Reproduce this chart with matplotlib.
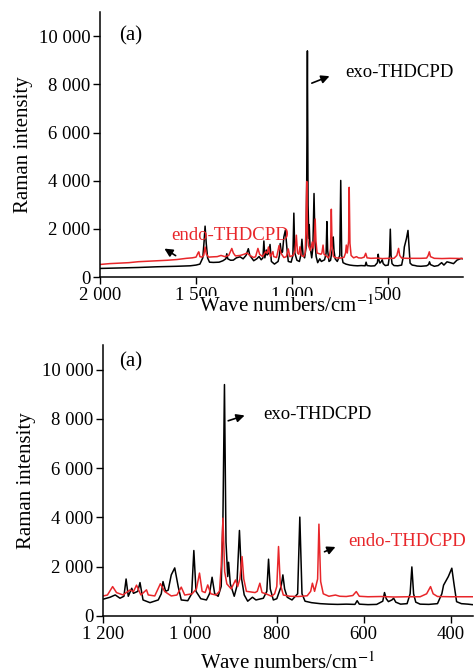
import matplotlib
matplotlib.use("Agg")
import matplotlib.pyplot as plt

plt.rcParams['font.family'] = ['Liberation Serif', 'DejaVu Serif']
plt.rcParams['mathtext.fontset'] = 'stix'

# Raman spectra, wave number (cm-1) vs intensity
exo_wn = [2000, 1900, 1800, 1700, 1600, 1530, 1500, 1480, 1465, 1458, 1453, 1447, 1440, 1430,
          1410, 1380, 1360, 1345, 1340, 1335, 1320, 1306, 1290, 1271, 1255, 1240, 1228, 1220,
          1200, 1184, 1172, 1161, 1152, 1147, 1142, 1134, 1130, 1120, 1115, 1108, 1092, 1073,
          1066, 1062, 1056, 1050, 1043, 1035, 1027, 1020, 1005, 996, 991, 986, 975, 962, 955,
          949, 943, 935, 928, 924, 920.5, 917, 913, 911, 907, 898, 892, 886, 881, 875, 867, 856,
          848, 831, 823, 819, 815, 808, 800, 790, 786, 782, 776, 765, 752, 747, 742, 735, 720,
          700, 680, 660, 640, 620, 615, 610, 590, 570, 556, 552, 548, 543, 535, 531, 526, 515,
          500, 493, 489, 485, 480, 470, 450, 430, 420, 416, 405, 397, 392, 386, 375, 360, 350,
          330, 300, 290, 285, 280, 260, 240, 222, 210, 194, 177, 160, 142, 121, 110]
exo_int = [360, 380, 400, 430, 450, 470, 500, 540, 800, 1500, 2116, 1400, 800, 620,
           610, 620, 680, 760, 970, 760, 700, 705, 800, 843, 760, 900, 1180, 900,
           680, 760, 854, 720, 800, 1500, 800, 1124, 920, 1000, 1355, 650, 541, 650,
           900, 1395, 1000, 1050, 1667, 1950, 1190, 650, 620, 900, 2656, 1000, 700, 650, 900,
           1572, 900, 800, 1200, 4000, 9390, 3000, 1600, 2180, 1300, 800, 1200, 3470, 1500, 854, 600, 760,
           650, 720, 1000, 2304, 1100, 650, 700, 1200, 1667, 1100, 760, 650, 900, 4012, 900, 600, 540,
           500, 480, 470, 480, 470, 620, 480, 460, 470, 600, 950, 700, 583, 650, 720, 560, 480,
           500, 900, 1990, 900, 560, 480, 470, 500, 900, 1250, 1600, 1938, 1300, 580, 500, 480, 460,
           450, 470, 520, 635, 520, 450, 480, 600, 500, 635, 600, 560, 705, 775, 760]

endo_wn = [2000, 1950, 1900, 1850, 1800, 1750, 1700, 1650, 1600, 1550, 1520, 1500, 1490, 1486,
           1480, 1470, 1460, 1453, 1446, 1435, 1410, 1390, 1370, 1350, 1330, 1314, 1306, 1295,
           1270, 1250, 1235, 1220, 1200, 1190, 1178, 1169, 1154, 1138, 1130, 1123, 1113, 1100,
           1096, 1081, 1068, 1058, 1043, 1030, 1020, 1012, 995, 985, 978, 972, 965, 959, 952,
           940, 932, 928, 924, 920, 915, 905, 895, 890, 885, 880, 876, 870, 865, 850, 845, 839,
           834, 825, 812, 805, 800, 796, 792, 785, 770, 750, 730, 722, 718, 713, 706, 703, 699,
           693, 680, 665, 655, 640, 625, 617, 610, 590, 560, 530, 500, 470, 455, 446, 440, 430,
           400, 370, 330, 300, 292, 286, 280, 260, 220, 180, 140, 110]
endo_int = [525, 560, 580, 600, 640, 660, 680, 700, 730, 780, 800, 830, 1000, 1050,
            850, 830, 900, 1250, 950, 830, 843, 850, 900, 850, 900, 1190, 1000, 880,
            900, 950, 1000, 900, 813, 850, 1192, 948, 854, 1057, 990, 1250, 854, 1060,
            854, 813, 1310, 990, 813, 850, 1170, 850, 900, 1100, 1740, 1000, 950, 1260, 900,
            850, 1000, 2000, 3970, 1800, 1300, 1100, 1460, 1200, 1500, 2410, 1500, 1000, 988, 950, 1000, 1330,
            950, 900, 800, 900, 1200, 2818, 1300, 850, 800, 790, 820, 1000, 1330, 1000, 1500, 3726, 1400,
            900, 800, 850, 800, 790, 830, 990, 800, 780, 790, 770, 780, 780, 900, 1192, 900, 790,
            780, 780, 780, 790, 900, 1050, 850, 780, 770, 780, 775, 770]

y_ticks = [0, 2000, 4000, 6000, 8000, 10000]
y_labels = ['0', '2 000', '4 000', '6 000', '8 000', '10 000']

RED = '#e8262a'
arrow = dict(arrowstyle='-|>', color='black', lw=1.2, mutation_scale=12)

fig = plt.figure(figsize=(4.75, 6.71), dpi=100)


def panel(ax, xlim, xticks, xticklabels):
    ax.plot(exo_wn, exo_int, color='black', lw=1.1)
    ax.plot(endo_wn, endo_int, color=RED, lw=1.1)
    ax.set_xlim(*xlim)
    ax.set_ylim(0, 11000)
    ax.set_xticks(xticks)
    ax.set_xticklabels(xticklabels)
    ax.set_yticks(y_ticks)
    ax.set_yticklabels(y_labels)
    ax.tick_params(direction='out', length=5, width=1, labelsize=13.5, pad=2)
    for s in ['top', 'right']:
        ax.spines[s].set_visible(False)
    for s in ['left', 'bottom']:
        ax.spines[s].set_linewidth(1.1)
    ax.set_ylabel('Raman intensity', fontsize=15, labelpad=4)


# top: full range
ax1 = fig.add_axes([0.2105, 0.587, 0.7645, 0.395])
panel(ax1, (2000, 110), [2000, 1500, 1000, 500], ['2 000', '1 500', '1 000', '500'])
ax1.text(1901, 10000, '(a)', fontsize=15, va='center')
ax1.annotate('', xy=(792, 8382), xytext=(911, 8008), arrowprops=arrow)
ax1.text(724, 8506, 'exo-THDCPD', fontsize=13.5, va='center', color='black')
ax1.annotate('', xy=(1677, 1245), xytext=(1594, 830), arrowprops=arrow)
ax1.text(1630, 1743, 'endo-THDCPD', fontsize=13.5, va='center', color=RED)
fig.text(0.603, 0.543, 'Wave numbers/cm$^{-1}$', fontsize=15, ha='center', va='center',
         zorder=5, bbox=dict(facecolor='white', edgecolor='none', pad=0.2))

# bottom: fingerprint region
ax2 = fig.add_axes([0.217, 0.082, 0.779, 0.404])
panel(ax2, (1200, 348), [1200, 1000, 800, 600, 400], ['1 200', '1 000', '800', '600', '400'])
ax2.set_xlabel('Wave numbers/cm$^{-1}$', fontsize=15, labelpad=7)
ax2.text(1163, 10325, '(a)', fontsize=15, va='center')
ax2.annotate('', xy=(868, 8171), xytext=(918, 7886), arrowprops=arrow)
ax2.text(831, 8171, 'exo-THDCPD', fontsize=13.5, va='center', color='black')
ax2.annotate('', xy=(659, 2846), xytext=(696, 2561), arrowprops=arrow)
ax2.text(636, 3008, 'endo-THDCPD', fontsize=13.5, va='center', color=RED)

fig.savefig('out.png', dpi=100)
